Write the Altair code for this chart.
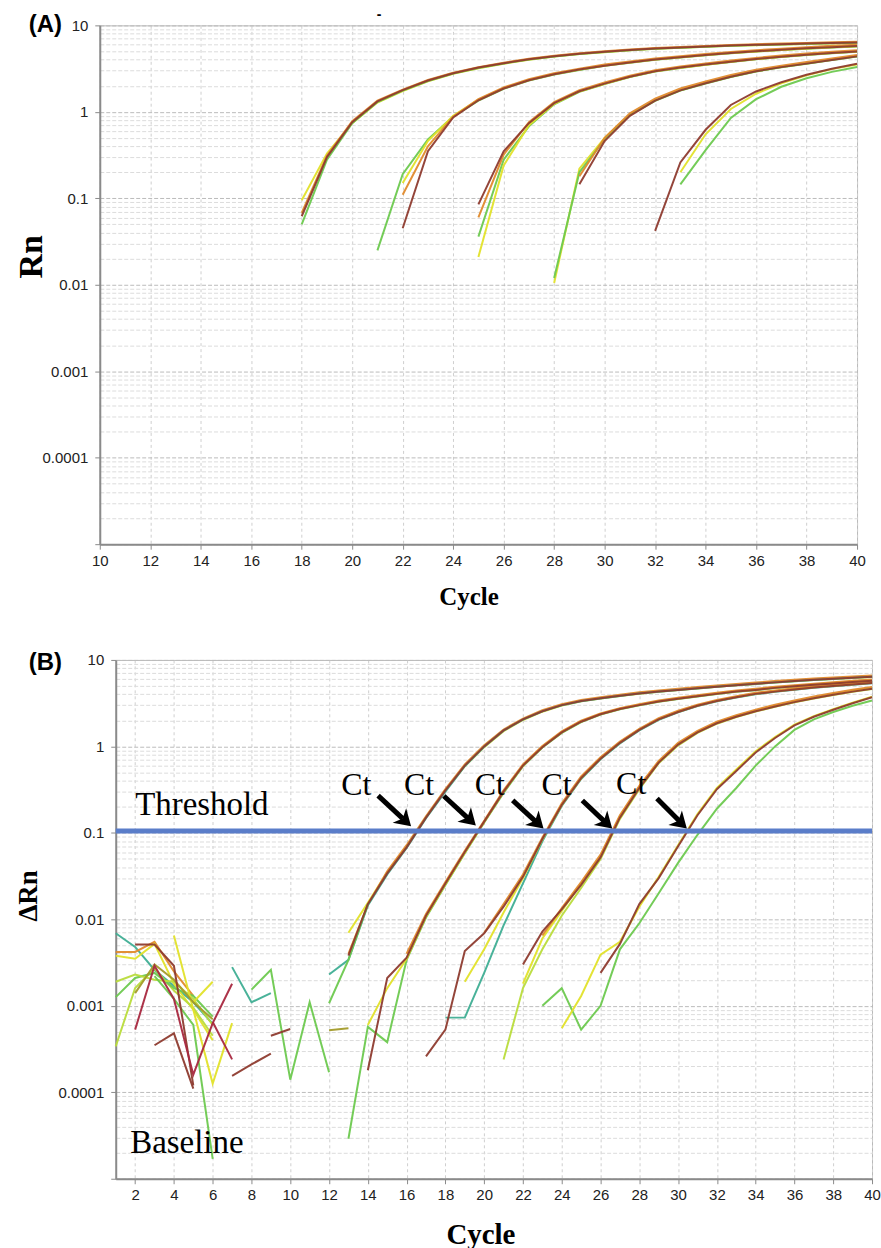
import altair as alt
import pandas as pd

# ---------------- colours of the replicate traces ----------------
COLOUR_KEYS = ["brown", "crimson", "orange", "olive", "yellow", "ylgreen", "green", "teal"]
COLOUR_HEX = ["#8E3B2F", "#A8283F", "#E08A2C", "#A39B2A", "#E2E22A", "#B9DC3C", "#6DC94F", "#3FAE94"]

# ---------------- Panel (A): Rn per cycle ----------------
A1_BROWN = [0.062, 0.30, 0.76, 1.32, 1.78, 2.30, 2.80, 3.25, 3.65, 4.05, 4.40, 4.70, 4.95, 5.20, 5.40, 5.55, 5.70, 5.85, 5.95, 6.05, 6.15, 6.25, 6.35]
A1_YELLOW = [0.095, 0.33, 0.74, 1.28, 1.74, 2.25, 2.75, 3.20, 3.60, 4.00, 4.35, 4.65, 4.90, 5.15, 5.35, 5.50, 5.65, 5.80, 5.90, 6.00, 6.10, 6.20, 6.28]
A1_GREEN = [0.050, 0.28, 0.74, 1.30, 1.76, 2.27, 2.77, 3.22, 3.62, 4.02, 4.37, 4.67, 4.92, 5.17, 5.37, 5.52, 5.67, 5.82, 5.92, 6.02, 6.12, 6.22, 6.30]
A1_ORANGE = [0.068, 0.31, 0.78, 1.35, 1.81, 2.33, 2.83, 3.28, 3.70, 4.10, 4.45, 4.76, 5.02, 5.27, 5.47, 5.63, 5.79, 5.94, 6.05, 6.16, 6.27, 6.38, 6.48]
A2_GREEN = [0.025, 0.19, 0.48, 0.88, 1.35, 1.85, 2.30, 2.70, 3.05, 3.40, 3.70, 4.00, 4.25, 4.50, 4.75, 4.98, 5.18, 5.38, 5.55, 5.70]
A2_BROWN = [0.045, 0.35, 0.86, 1.36, 1.86, 2.32, 2.72, 3.08, 3.42, 3.72, 4.02, 4.28, 4.53, 4.78, 5.02, 5.22, 5.42, 5.60, 5.78]
A2_YELLOW = [0.15, 0.46, 0.90, 1.38, 1.88, 2.33, 2.73, 3.08, 3.43, 3.73, 4.03, 4.28, 4.53, 4.78, 5.00, 5.20, 5.40, 5.58, 5.74]
A2_ORANGE = [0.11, 0.40, 0.88, 1.40, 1.92, 2.38, 2.80, 3.16, 3.52, 3.83, 4.14, 4.40, 4.66, 4.92, 5.16, 5.38, 5.60, 5.80, 5.98]
A3_BROWN = [0.085, 0.35, 0.74, 1.26, 1.73, 2.12, 2.55, 2.95, 3.25, 3.52, 3.80, 4.08, 4.34, 4.58, 4.80, 5.00]
A3_GREEN = [0.036, 0.28, 0.68, 1.22, 1.70, 2.10, 2.52, 2.92, 3.22, 3.50, 3.78, 4.05, 4.30, 4.55, 4.76, 4.96]
A3_YELLOW = [0.021, 0.24, 0.70, 1.24, 1.72, 2.11, 2.54, 2.94, 3.24, 3.51, 3.79, 4.07, 4.33, 4.57, 4.78, 4.98]
A3_ORANGE = [0.060, 0.32, 0.76, 1.30, 1.78, 2.18, 2.62, 3.02, 3.34, 3.62, 3.92, 4.20, 4.48, 4.72, 4.95, 5.15]
A4_YELLOW = [0.0105, 0.22, 0.50, 0.93, 1.36, 1.78, 2.15, 2.55, 2.95, 3.30, 3.62, 4.00, 4.40]
A4_GREEN = [0.012, 0.20, 0.48, 0.92, 1.34, 1.76, 2.13, 2.53, 2.92, 3.27, 3.60, 3.97, 4.35]
A4_BROWN = [0.145, 0.46, 0.90, 1.35, 1.77, 2.14, 2.54, 2.94, 3.29, 3.61, 3.98, 4.38]
A4_ORANGE = [0.18, 0.50, 0.96, 1.42, 1.86, 2.24, 2.66, 3.06, 3.42, 3.76, 4.14, 4.55]
A5_BROWN = [0.042, 0.26, 0.62, 1.20, 1.72, 2.20, 2.68, 3.15, 3.60]
A5_GREEN = [0.145, 0.36, 0.85, 1.40, 1.95, 2.45, 2.90, 3.30]
A5_YELLOW = [0.20, 0.55, 1.08, 1.62, 2.14, 2.64, 3.12, 3.52]

# (id, colour, first cycle, values)
A_SERIES = [
    ("a1y", "yellow", 18, A1_YELLOW), ("a1g", "green", 18, A1_GREEN), ("a1o", "orange", 18, A1_ORANGE), ("a1b", "brown", 18, A1_BROWN),
    ("a2g", "green", 21, A2_GREEN), ("a2y", "yellow", 22, A2_YELLOW), ("a2o", "orange", 22, A2_ORANGE), ("a2b", "brown", 22, A2_BROWN),
    ("a3g", "green", 25, A3_GREEN), ("a3y", "yellow", 25, A3_YELLOW), ("a3o", "orange", 25, A3_ORANGE), ("a3b", "brown", 25, A3_BROWN),
    ("a4y", "yellow", 28, A4_YELLOW), ("a4g", "green", 28, A4_GREEN), ("a4o", "orange", 29, A4_ORANGE), ("a4b", "brown", 29, A4_BROWN),
    ("a5g", "green", 33, A5_GREEN), ("a5y", "yellow", 33, A5_YELLOW), ("a5b", "brown", 32, A5_BROWN),
]

# ---------------- Panel (B): delta Rn per cycle ----------------
B1_BROWN = [0.0038, 0.0150, 0.034, 0.068, 0.150, 0.31, 0.60, 1.00, 1.53, 2.05, 2.55, 3.00, 3.35, 3.60, 3.85, 4.10, 4.30, 4.50, 4.70, 4.90, 5.10, 5.30, 5.50, 5.70, 5.88, 6.05, 6.22, 6.40]
B1_YELLOW = [0.0070, 0.0155, 0.035, 0.070, 0.152, 0.31, 0.59, 0.98, 1.50, 2.02, 2.52, 2.96, 3.32, 3.58, 3.83, 4.07, 4.28, 4.48, 4.68, 4.88, 5.08, 5.28, 5.47, 5.66, 5.84, 6.01, 6.18, 6.35]
B1_ORANGE = [0.0040, 0.0148, 0.036, 0.072, 0.155, 0.32, 0.62, 1.03, 1.57, 2.10, 2.62, 3.08, 3.44, 3.70, 3.96, 4.22, 4.43, 4.64, 4.85, 5.06, 5.27, 5.48, 5.69, 5.90, 6.08, 6.26, 6.44, 6.62]
B1_TEAL = [0.0023, 0.0034, 0.0145, 0.033, 0.067, 0.148, 0.30, 0.59, 0.99, 1.52, 2.04, 2.54, 2.98, 3.33, 3.58, 3.83, 4.08, 4.28, 4.48, 4.68, 4.88, 5.08, 5.28, 5.48, 5.68, 5.86, 6.03, 6.20, 6.38]
B1_GREEN = [0.00107, 0.0034, 0.0150]
B2_BROWN = [0.00018, 0.0021, 0.0036, 0.011, 0.026, 0.060, 0.135, 0.30, 0.60, 0.98, 1.45, 1.93, 2.35, 2.70, 3.00, 3.30, 3.55, 3.80, 4.05, 4.30, 4.50, 4.75, 4.95, 5.15, 5.35, 5.55, 5.75]
B2_GREEN = [0.000029, 0.00057, 0.00038, 0.0034, 0.0105, 0.025, 0.058, 0.132, 0.29, 0.59, 0.97, 1.43, 1.91, 2.33, 2.68, 2.98, 3.28, 3.53, 3.78, 4.03, 4.27, 4.47, 4.72, 4.92, 5.12, 5.32, 5.52, 5.70]
B2_YELLOW = [0.0006, 0.0016, 0.0035, 0.0108, 0.0255, 0.059, 0.134, 0.30, 0.60, 0.99, 1.46, 1.95, 2.37, 2.72, 3.03, 3.33, 3.58, 3.83, 4.08, 4.33, 4.54, 4.79, 5.00, 5.20, 5.40, 5.60, 5.80]
B2_ORANGE = [0.0040, 0.0115, 0.027, 0.062, 0.138, 0.31, 0.62, 1.01, 1.49, 1.98, 2.41, 2.77, 3.08, 3.39, 3.65, 3.91, 4.17, 4.43, 4.64, 4.90, 5.11, 5.32, 5.53, 5.74, 5.95]
B3_BROWN = [0.00026, 0.00053, 0.0043, 0.0069, 0.014, 0.031, 0.085, 0.21, 0.43, 0.72, 1.10, 1.55, 2.05, 2.50, 2.95, 3.35, 3.70, 4.05, 4.30, 4.55, 4.80, 5.00, 5.20, 5.40]
B3_TEAL = [0.00073, 0.00073, 0.0024, 0.0085, 0.026, 0.080, 0.205, 0.42, 0.71, 1.08, 1.53, 2.03, 2.48, 2.93, 3.33, 3.68, 4.02, 4.27, 4.52, 4.77, 4.97, 5.17, 5.37]
B3_YELLOW = [0.0019, 0.0045, 0.012, 0.030, 0.084, 0.21, 0.43, 0.73, 1.11, 1.57, 2.07, 2.52, 2.97, 3.37, 3.72, 4.07, 4.33, 4.58, 4.83, 5.03, 5.23, 5.43]
B3_ORANGE = [0.0070, 0.015, 0.033, 0.088, 0.22, 0.45, 0.75, 1.14, 1.60, 2.12, 2.58, 3.04, 3.45, 3.81, 4.17, 4.43, 4.69, 4.95, 5.16, 5.37, 5.58]
B4_BROWN = [0.0030, 0.0072, 0.013, 0.025, 0.052, 0.15, 0.33, 0.65, 1.05, 1.45, 1.85, 2.20, 2.55, 2.90, 3.25, 3.60, 3.95, 4.30, 4.65]
B4_GREEN = [0.00024, 0.0016, 0.0045, 0.011, 0.023, 0.050, 0.145, 0.32, 0.64, 1.03, 1.43, 1.83, 2.18, 2.53, 2.88, 3.23, 3.58, 3.93, 4.28, 4.62]
B4_YELLOW = [0.0018, 0.0060, 0.0125, 0.026, 0.054, 0.155, 0.34, 0.66, 1.07, 1.47, 1.88, 2.23, 2.58, 2.94, 3.29, 3.65, 4.00, 4.36, 4.70]
B4_ORANGE = [0.0065, 0.0135, 0.027, 0.056, 0.16, 0.35, 0.68, 1.10, 1.51, 1.93, 2.29, 2.66, 3.03, 3.40, 3.77, 4.14, 4.51, 4.88]
B5_BROWN = [0.0024, 0.0052, 0.015, 0.030, 0.070, 0.16, 0.32, 0.52, 0.85, 1.25, 1.75, 2.20, 2.65, 3.15, 3.70]
B5_GREEN = [0.0010, 0.0016, 0.00053, 0.0010, 0.0045, 0.0090, 0.020, 0.045, 0.095, 0.19, 0.33, 0.60, 1.00, 1.55, 2.05, 2.50, 2.95, 3.40]
B5_YELLOW = [0.00055, 0.0013, 0.0039, 0.0055, 0.014, 0.031, 0.072, 0.165, 0.33, 0.54, 0.88, 1.28, 1.78, 2.24, 2.70, 3.20, 3.75]

# baseline noise traces of panel (B)
N_TEAL1 = [0.0069, 0.0048, 0.0026, 0.0017, 0.0011, 0.00062]
N_BROWN1 = [0.0051, 0.0051, 0.0029, 0.00012]
N_CRIMSON1 = [0.00053, 0.0029, 0.0012, 0.00016, 0.00063, 0.0018]
N_CRIMSON2 = [0.00065, 0.00024]
N_ORANGE1 = [0.0042, 0.0042, 0.0055, 0.0025, 0.0013]
N_YELLOW1 = [0.0038, 0.0035, 0.0052, 0.0018, 0.0009, 0.0004]
N_YLGREEN1 = [0.00034, 0.0016, 0.0027, 0.0015, 0.00095, 0.00045]
N_GREEN1 = [0.00126, 0.0021, 0.0024, 0.0016, 0.0013, 0.00075]
N_GREEN2 = [0.0019, 0.0023, 0.0020, 0.0019, 0.0012, 0.0006]
N_YELLOW2 = [0.0065, 0.0009, 0.000126, 0.00063]
N_GREEN3 = [0.0022, 0.0012, 0.0006, 0.000017]
N_BROWN2 = [0.00035, 0.00048, 0.00011]
N_BROWN3 = [0.000155, 0.00021, 0.00028]
N_BROWN4 = [0.00045, 0.00054]
N_TEAL2 = [0.0028, 0.0011, 0.0014]
N_GREEN4 = [0.00154, 0.0026, 0.00014, 0.0011, 0.00017]
N_OLIVE1 = [0.00052, 0.00055]
N_YELLOW3 = [0.0011, 0.0019]
N_OLIVE2 = [0.0014, 0.0030, 0.0020, 0.0011, 0.0007]

B_SERIES = [
    ("n1", "teal", 1, N_TEAL1), ("n5", "orange", 1, N_ORANGE1), ("n6", "yellow", 1, N_YELLOW1),
    ("n7", "ylgreen", 1, N_YLGREEN1), ("n8", "green", 1, N_GREEN1), ("n9", "ylgreen", 1, N_GREEN2),
    ("n10", "yellow", 4, N_YELLOW2), ("n11", "green", 3, N_GREEN3), ("n15", "teal", 7, N_TEAL2),
    ("n16", "green", 8, N_GREEN4), ("n17", "olive", 12, N_OLIVE1), ("n18", "yellow", 5, N_YELLOW3),
    ("n19", "olive", 2, N_OLIVE2),
    ("n2", "brown", 2, N_BROWN1), ("n3", "crimson", 2, N_CRIMSON1), ("n4", "crimson", 6, N_CRIMSON2),
    ("n12", "brown", 3, N_BROWN2), ("n13", "brown", 7, N_BROWN3), ("n14", "brown", 9, N_BROWN4),
    ("b1y", "yellow", 13, B1_YELLOW), ("b1o", "orange", 13, B1_ORANGE), ("b1t", "teal", 12, B1_TEAL),
    ("b1g", "green", 12, B1_GREEN), ("b1b", "brown", 13, B1_BROWN),
    ("b2g", "green", 13, B2_GREEN), ("b2y", "yellow", 14, B2_YELLOW), ("b2o", "orange", 16, B2_ORANGE),
    ("b2b", "brown", 14, B2_BROWN),
    ("b3t", "teal", 18, B3_TEAL), ("b3y", "yellow", 19, B3_YELLOW), ("b3o", "orange", 20, B3_ORANGE),
    ("b3b", "brown", 17, B3_BROWN),
    ("b4g", "ylgreen", 21, B4_GREEN), ("b4y", "yellow", 22, B4_YELLOW), ("b4o", "orange", 23, B4_ORANGE),
    ("b4b", "brown", 22, B4_BROWN),
    ("b5g", "green", 23, B5_GREEN), ("b5y", "yellow", 24, B5_YELLOW), ("b5b", "brown", 26, B5_BROWN),
]

# annotations of panel (B)
THRESHOLD = 0.105
CT_CYCLE = [13.41, 16.64, 20.29, 23.73, 27.58]
CT_VALUE = [0.272, 0.272, 0.272, 0.272, 0.284]
ARROW_FROM_CYCLE = [14.53, 17.92, 21.47, 25.06, 28.91]
ARROW_FROM_VALUE = [0.27, 0.267, 0.237, 0.237, 0.25]
ARROW_TO_CYCLE = [16.23, 19.57, 23.06, 26.60, 30.45]
ARROW_TO_VALUE = [0.119, 0.122, 0.112, 0.112, 0.112]

A_X_TICKS = list(range(10, 41, 2))
B_X_TICKS = list(range(2, 41, 2))


def build(series):
    rows = []
    for sid, colour, start, vals in series:
        for i, v in enumerate(vals):
            rows.append(dict(sid=sid, colour=colour, cycle=start + i, value=v,
                             layer="top" if colour in ("brown", "crimson") else "under"))
    return pd.DataFrame(rows)


dfA = build(A_SERIES)
dfB = build(B_SERIES)

Y_GRID = [round(m * 10.0 ** e, 10) for e in range(-5, 1) for m in range(1, 10)] + [10.0]
MAJOR = "indexof([0.00001, 0.0001, 0.001, 0.01, 0.1, 1, 10], datum.value) >= 0"
LABELS = "datum.value >= 0.0001 && " + MAJOR + " ? toString(datum.value) : ''"
AXIS_GREY = "#8a8a8a"
LABEL_FONT = "Liberation Sans"
SERIF = "Liberation Serif"
COLOURS = alt.Scale(domain=COLOUR_KEYS, range=COLOUR_HEX)


def y_axis(title, size, tx, ty):
    return alt.Axis(
        values=Y_GRID, labelExpr=LABELS, labelFont=LABEL_FONT, labelFontSize=15, labelColor="#222222",
        labelPadding=7, labelOverlap=False, tickSize=5, tickColor=AXIS_GREY,
        tickOpacity={"condition": {"test": MAJOR, "value": 1}, "value": 0},
        grid=True, gridColor={"condition": {"test": MAJOR, "value": "#bcbcbc"}, "value": "#dcdcdc"},
        gridDash=[4, 2], gridWidth=1, domainColor=AXIS_GREY, domainWidth=2,
        title=title, titleFont=SERIF, titleFontSize=size, titleFontWeight="bold", titleColor="black",
        titleX=tx, titleY=ty, titleAngle=270, titleAlign="center", titleBaseline="alphabetic")


def x_axis(values, tx, ty, size):
    return alt.Axis(
        values=values, format="d", labelFont=LABEL_FONT, labelFontSize=15, labelColor="#222222",
        labelPadding=4, labelFlush=False, labelOverlap=False, tickSize=5, tickColor=AXIS_GREY,
        grid=True, gridColor="#cfcfcf", gridDash=[3, 3], gridWidth=1,
        domainColor=AXIS_GREY, domainWidth=2,
        title="Cycle", titleFont=SERIF, titleFontSize=size, titleFontWeight="bold", titleColor="black",
        titleX=tx, titleY=ty, titleAlign="center", titleBaseline="alphabetic")


def traces(df, X, Y, which):
    return alt.Chart(df[df["layer"] == which]).mark_line(strokeWidth=2.0, opacity=0.95).encode(
        x=X, y=Y, color=alt.Color("colour:N", scale=COLOURS, legend=None), detail="sid:N")


def pixel_text(text, x, y, **kw):
    return alt.Chart(pd.DataFrame({"t": [text]})).mark_text(**kw).encode(
        x=alt.value(x), y=alt.value(y), text="t:N")


YSCALE = alt.Scale(type="log", domain=[1e-5, 10], nice=False)

# ---------------- panel A ----------------
XA = alt.X("cycle:Q", scale=alt.Scale(domain=[10, 40], nice=False, zero=False),
           axis=x_axis(A_X_TICKS, 369.5, 60, 25))
YA = alt.Y("value:Q", scale=YSCALE, axis=y_axis("Rn", 34, -58, 231.5))

panelA = alt.layer(
    traces(dfA, XA, YA, "under"),
    traces(dfA, XA, YA, "top"),
    pixel_text("(A)", -54.5, 0, font=LABEL_FONT, fontSize=24, fontWeight="bold", align="center", baseline="middle", color="black"),
    pixel_text("-", 280, -10, font=LABEL_FONT, fontSize=14, fontWeight="bold", align="center", baseline="middle", color="black"),
).properties(width=759, height=520, view=alt.ViewBackground(stroke="#b8b8b8", strokeWidth=1))

# ---------------- panel B ----------------
XB = alt.X("cycle:Q", scale=alt.Scale(domain=[1, 40], nice=False, zero=False),
           axis=x_axis(B_X_TICKS, 365.5, 65, 29))
YB = alt.Y("value:Q", scale=YSCALE, axis=y_axis("ΔRn", 27, -79, 236))

shaft_end_c = [c0 + 0.75 * (c1 - c0) for c0, c1 in zip(ARROW_FROM_CYCLE, ARROW_TO_CYCLE)]
shaft_end_v = [v0 * (v1 / v0) ** 0.75 for v0, v1 in zip(ARROW_FROM_VALUE, ARROW_TO_VALUE)]
shafts = pd.DataFrame({"cycle": ARROW_FROM_CYCLE, "value": ARROW_FROM_VALUE,
                       "cycle2": shaft_end_c, "value2": shaft_end_v})
heads = pd.DataFrame({"cycle": ARROW_TO_CYCLE, "value": ARROW_TO_VALUE})
cts = pd.DataFrame({"cycle": CT_CYCLE, "value": CT_VALUE, "t": ["Ct"] * 5})

HEAD = "M0,0 L-1,-0.62 L-0.72,0 L-1,0.62 Z"

panelB = alt.layer(
    traces(dfB, XB, YB, "under"),
    traces(dfB, XB, YB, "top"),
    alt.Chart(pd.DataFrame({"value": [THRESHOLD]})).mark_rule(color="#5A7DC9", strokeWidth=5).encode(y=YB),
    alt.Chart(shafts).mark_rule(color="black", strokeWidth=5, strokeCap="butt").encode(
        x=XB, y=YB, x2="cycle2:Q", y2="value2:Q"),
    alt.Chart(heads).mark_point(shape=HEAD, filled=True, size=1024, angle=43, color="black",
                                opacity=1, strokeWidth=0).encode(x=XB, y=YB),
    alt.Chart(cts).mark_text(font=SERIF, fontSize=32, align="center", baseline="alphabetic", color="black").encode(
        x=XB, y=YB, text="t:N"),
    alt.Chart(pd.DataFrame({"cycle": [2.0], "value": [0.16], "t": ["Threshold"]})).mark_text(
        font=SERIF, fontSize=33, align="left", baseline="alphabetic", color="black").encode(x=XB, y=YB, text="t:N"),
    alt.Chart(pd.DataFrame({"cycle": [1.745], "value": [1.97e-5], "t": ["Baseline"]})).mark_text(
        font=SERIF, fontSize=33, align="left", baseline="alphabetic", color="black").encode(x=XB, y=YB, text="t:N"),
    pixel_text("(B)", -70.5, 3, font=LABEL_FONT, fontSize=24, fontWeight="bold", align="center", baseline="middle", color="black"),
).properties(width=758, height=520, view=alt.ViewBackground(stroke="#b8b8b8", strokeWidth=1))


def spacer():
    return alt.Chart(pd.DataFrame({"s": [0]})).mark_text(text=" ").encode(
        x=alt.value(0), y=alt.value(0)).properties(width=1, height=1,
                                                   view=alt.ViewBackground(stroke="transparent"))


chart = alt.vconcat(
    alt.hconcat(spacer(), panelA, spacing=0),
    alt.hconcat(spacer(), panelB, spacing=0),
    spacing=40,
).properties(
    padding={"left": 11, "top": 6, "right": 0, "bottom": 0},
    background="white",
)

chart.save("out.html", embed_options={"renderer": "svg", "actions": False})
